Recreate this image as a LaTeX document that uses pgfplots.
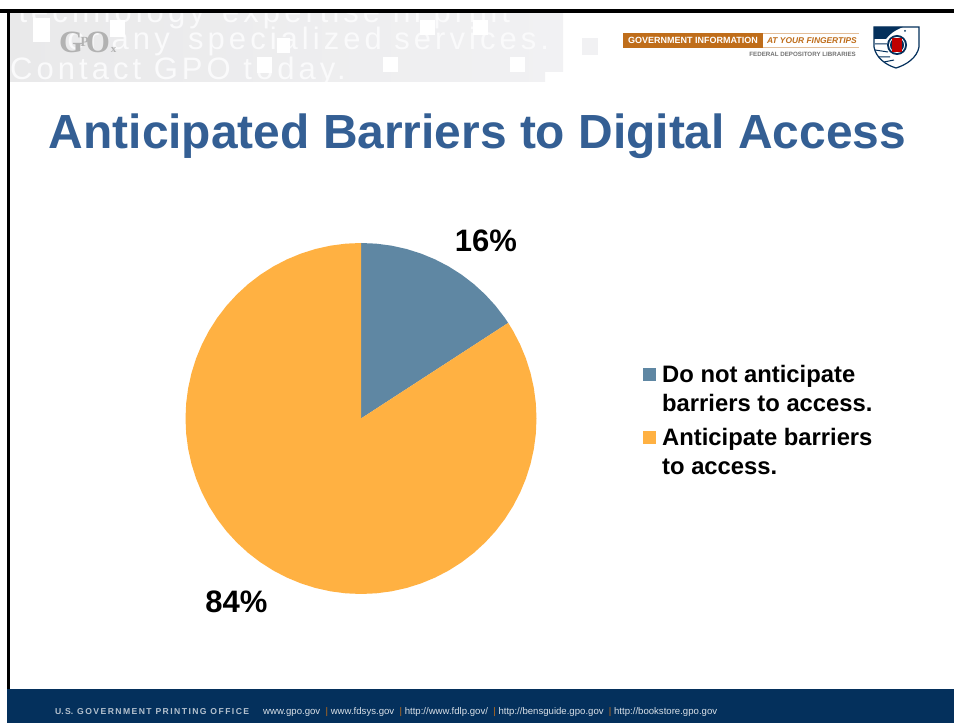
\documentclass[border=0pt]{standalone}
\usepackage{pgfplots}
\pgfplotsset{compat=1.18}
\usepackage{fontspec}
\setmainfont{Liberation Sans}
\newfontfamily\hdr[LetterSpace=13]{Liberation Sans}
\newfontfamily\logoserif{Liberation Serif}
\definecolor{sliceblue}{HTML}{5F87A3}
\definecolor{sliceorange}{HTML}{FFB142}
\definecolor{titleblue}{HTML}{345F94}
\definecolor{navy}{HTML}{04305C}
\definecolor{rust}{HTML}{BF6D1A}
\definecolor{bandl}{HTML}{E9E9EA}
\definecolor{bandr}{HTML}{F1F1F3}
\definecolor{hdrtext}{HTML}{FAFAFB}
\begin{document}
\begin{tikzpicture}[x=1pt,y=1pt]
\useasboundingbox (0,0) rectangle (954,723);
\fill[white] (0,0) rectangle (954,723);
% header band
\begin{scope}
\clip (10,641) rectangle (545,711) (10,651) rectangle (563,711);
\shade[left color=bandl,right color=bandr] (10,640) rectangle (563,712);
\node[anchor=base east,text=hdrtext,inner sep=0] at (205,700) {\hdr\fontsize{31}{31}\selectfont technology};
\node[anchor=base west,text=hdrtext,inner sep=0] at (222,700) {\hdr\fontsize{31}{31}\selectfont expertise in print};
\node[anchor=base east,text=hdrtext,inner sep=0] at (170,673) {\hdr\fontsize{31}{31}\selectfont or any};
\node[anchor=base west,text=hdrtext,inner sep=0] at (188,673) {\hdr\fontsize{31}{31}\selectfont specialized services.};
\node[anchor=base west,text=hdrtext,inner sep=0] at (10,643) {\hdr\fontsize{31}{31}\selectfont Contact GPO today.};
\foreach \xa/\ya/\xb/\yb in {33/681/50/705,110/686/125/703,277/670/290/685,257/650/272/666,383/651/398/666,420/688/435/703,473/688/488/703,510/651/525/666}
  \fill[white] (\xa,\ya) rectangle (\xb,\yb);
\end{scope}
\fill[bandr] (582,668) rectangle (598,685);
\node[anchor=base west,text=black!30,inner sep=0] at (59,670) {\logoserif\fontsize{31}{31}\selectfont\bfseries G\kern-3pt\raisebox{6pt}{\fontsize{14}{14}\selectfont P}\kern-3pt O\kern1pt{\fontsize{11}{11}\selectfont x}};
% right logo
\fill[rust] (623,675) rectangle (763,690);
\node[text=white,inner sep=0] at (693,682.5) {\fontsize{9}{9}\selectfont\bfseries GOVERNMENT INFORMATION};
\node[text=rust,inner sep=0,anchor=east] at (857,682.5) {\fontsize{8.4}{8.4}\selectfont\bfseries\itshape AT YOUR FINGERTIPS};
\draw[rust!45,line width=.5pt] (763,689.5) -- (859,689.5) (763,675.5) -- (859,675.5);
\node[text=black!55,inner sep=0,anchor=east] at (856,668.5) {\fontsize{6.2}{6.2}\selectfont\bfseries FEDERAL DEPOSITORY LIBRARIES};
% seal
\draw[fill=white,draw=navy,line width=1.2pt] (874,696) -- (919,696) -- (919,676) .. controls (917,665) and (906,658) .. (896,655) .. controls (886,658) and (876,665) .. (874,676) -- cycle;
\fill[navy] (874,696) -- (903,696) .. controls (893,692) and (889,688) .. (886,684) -- (874,684) -- cycle;
\fill[navy] (897,678) circle (10pt);
\fill[white] (897,678) circle (8pt);
\fill[navy] (897,678) circle (7pt);
\fill[red!75!black] (892,671) rectangle (902,685);
\draw[navy,line width=1pt] (875,679) -- (887,679) (875,673) -- (888,671) (878,666) -- (890,666) (884,661) -- (894,663);
\fill[navy] (905,692) circle (1pt);
% frame and footer
\fill[black] (0,710) rectangle (954,714);
\fill[black] (7,33) rectangle (10,714);
\fill[navy] (7,0) rectangle (954,34);
\node[anchor=base west,text=white!70!navy,inner sep=0] at (55,8) {\fontsize{8.6}{8.6}\selectfont\bfseries U.\,S.\ \,G\,O\,V\,E\,R\,N\,M\,E\,N\,T\ \,P\,R\,I\,N\,T\,I\,N\,G\ \,O\,F\,F\,I\,C\,E};
\node[anchor=base west,text=white!85!navy,inner sep=0] at (263,8) {\fontsize{9.6}{9.6}\selectfont www.gpo.gov \ {\color{rust}|}\ www.fdsys.gov \ {\color{rust}|}\ http://www.fdlp.gov/ \ {\color{rust}|}\ http://bensguide.gpo.gov \ {\color{rust}|}\ http://bookstore.gpo.gov};
% title
\node[anchor=base,text=titleblue,inner sep=0] at (477.5,574) {\fontsize{47.9}{50}\selectfont\bfseries Anticipated Barriers to Digital Access};
\begin{axis}[
  at={(0,0)},anchor=south west,
  x=1pt,y=1pt,scale only axis,
  xmin=-361,xmax=593,ymin=-304.5,ymax=418.5,
  hide axis,
  legend cell align=left,
  legend style={draw=none,fill=none,at={(axis cs:279,57)},anchor=north west,
    font=\fontsize{23.8}{29}\selectfont\bfseries,
    cells={anchor=base west},row sep=40pt},
  legend image code/.code={\fill[#1] (0pt,2pt) rectangle (13pt,15pt);},
]
\addplot[fill=sliceblue,draw=none,data cs=polar] coordinates {
 (0,0) (90,175.5) (85,175.5) (80,175.5) (75,175.5) (70,175.5) (65,175.5) (60,175.5) (55,175.5)
 (50,175.5) (45,175.5) (40,175.5) (35,175.5) (33,175.5)} -- cycle;
\addlegendentry{\hspace*{4pt}\parbox[t]{230pt}{Do not anticipate\\barriers to access.}}
\addplot[fill=sliceorange,draw=none,data cs=polar] coordinates {
 (0,0) (33,175.5) (30,175.5) (25,175.5) (20,175.5) (15,175.5) (10,175.5) (5,175.5) (0,175.5)
 (-5,175.5) (-10,175.5) (-15,175.5) (-20,175.5) (-25,175.5) (-30,175.5) (-35,175.5) (-40,175.5) (-45,175.5)
 (-50,175.5) (-55,175.5) (-60,175.5) (-65,175.5) (-70,175.5) (-75,175.5) (-80,175.5) (-85,175.5) (-90,175.5)
 (-95,175.5) (-100,175.5) (-105,175.5) (-110,175.5) (-115,175.5) (-120,175.5) (-125,175.5) (-130,175.5) (-135,175.5)
 (-140,175.5) (-145,175.5) (-150,175.5) (-155,175.5) (-160,175.5) (-165,175.5) (-170,175.5) (-175,175.5) (-180,175.5)
 (-185,175.5) (-190,175.5) (-195,175.5) (-200,175.5) (-205,175.5) (-210,175.5) (-215,175.5) (-220,175.5) (-225,175.5)
 (-230,175.5) (-235,175.5) (-240,175.5) (-245,175.5) (-250,175.5) (-255,175.5) (-260,175.5) (-265,175.5) (-270,175.5)} -- cycle;
\addlegendentry{\hspace*{4pt}\parbox[t]{230pt}{Anticipate barriers\\to access.}}
\node[inner sep=0,font=\fontsize{31}{31}\selectfont\bfseries] at (axis cs:125,178) {16\%};
\node[inner sep=0,font=\fontsize{31}{31}\selectfont\bfseries] at (axis cs:-124.5,-183) {84\%};
\end{axis}
\end{tikzpicture}
\end{document}
